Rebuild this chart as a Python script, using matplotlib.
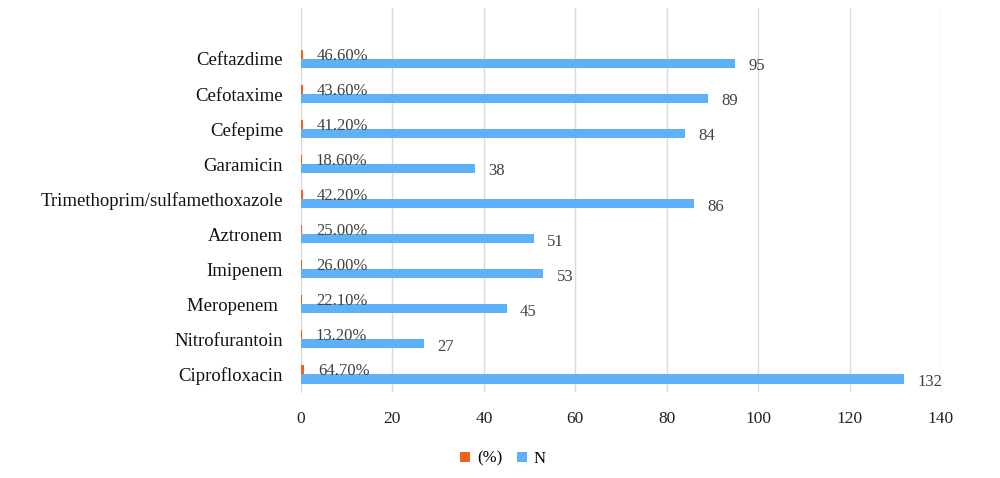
import numpy as np
import matplotlib.pyplot as plt

plt.rcParams['font.family'] = ['Liberation Serif', 'DejaVu Serif']

drugs = ["Ciprofloxacin", "Nitrofurantoin", "Meropenem ", "Imipenem", "Aztronem",
         "Trimethoprim/sulfamethoxazole", "Garamicin", "Cefepime", "Cefotaxime", "Ceftazdime"]
pct = [0.647, 0.132, 0.221, 0.26, 0.25, 0.422, 0.186, 0.412, 0.436, 0.466]
n = [132, 27, 45, 53, 51, 86, 38, 84, 89, 95]

orange = '#F4601E'
blue = '#5EB1F7'

fig = plt.figure(figsize=(10, 4.78), dpi=100)
ax = fig.add_axes([0.301, 0.18, 0.640, 0.803])

y = np.arange(len(drugs))
h = 0.26
ax.barh(y + h / 2, pct, height=h, color=orange, label='(%)', zorder=3)
ax.barh(y - h / 2, n, height=h, color=blue, label='N', zorder=3)

for yi, p, v in zip(y, pct, n):
    ax.annotate(f"{p * 100:.2f}%", (p, yi + h / 2), xytext=(10, -1), textcoords='offset points',
                va='center', ha='left', fontsize=12, color='#404040', zorder=4)
    ax.annotate(f"{v}", (v, yi - h / 2), xytext=(9.5, -2), textcoords='offset points',
                va='center', ha='left', fontsize=12, color='#404040', zorder=4)

ax.set_xlim(0, 140)
ax.set_xticks(np.arange(0, 141, 20))
ax.set_ylim(-0.5, 10.45)
ax.set_yticks(y)
ax.set_yticklabels(drugs, fontsize=13.5, color='#111111')
ax.tick_params(axis='x', labelsize=12.5, length=0, pad=14, labelcolor='#222222')
ax.tick_params(axis='y', length=0, pad=13)
ax.grid(axis='x', color='#D9D9D9', linewidth=1, zorder=0)
for s in ['top', 'right', 'bottom']:
    ax.spines[s].set_visible(False)
ax.spines['left'].set_color('#D9D9D9')

ax.legend(loc='center', bbox_to_anchor=(0.503, 0.04), bbox_transform=fig.transFigure, ncol=2,
          frameon=False, fontsize=12, handlelength=0.6, handleheight=0.6, columnspacing=0.9,
          handletextpad=0.4)

fig.savefig('out.png', dpi=100)
